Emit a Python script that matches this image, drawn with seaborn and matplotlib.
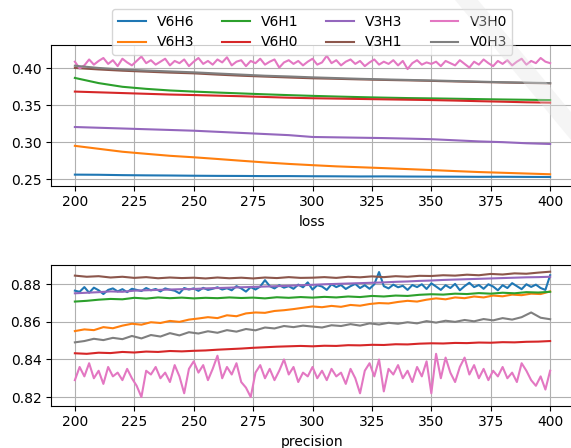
import numpy as np
import pandas as pd
import matplotlib
matplotlib.use("Agg")
import matplotlib.pyplot as plt
import seaborn as sns
from matplotlib.patches import Polygon

# %%
# model names in legend order, colors follow matplotlib's tab10 cycle
models = ['V6H6', 'V6H3', 'V6H1', 'V6H0', 'V3H3', 'V3H1', 'V3H0', 'V0H3']

epochs_10 = list(range(200, 401, 10))
epochs_5 = list(range(200, 401, 5))
epochs_4 = list(range(200, 401, 4))
epochs_2 = list(range(200, 401, 2))

# %%
# loss values
loss_v6h6 = [0.2560, 0.2558, 0.2553, 0.2550, 0.2548, 0.2545, 0.2543, 0.2542, 0.2540, 0.2540, 0.2538,
             0.2537, 0.2535, 0.2536, 0.2534, 0.2533, 0.2532, 0.2530, 0.2531, 0.2529, 0.2528]
loss_v6h3 = [0.2950, 0.2910, 0.2870, 0.2842, 0.2815, 0.2795, 0.2772, 0.2748, 0.2725, 0.2705, 0.2688,
             0.2672, 0.2660, 0.2648, 0.2635, 0.2622, 0.2608, 0.2595, 0.2585, 0.2575, 0.2565]
loss_v6h1 = [0.3870, 0.3800, 0.3750, 0.3722, 0.3700, 0.3685, 0.3672, 0.3660, 0.3648, 0.3637, 0.3627,
             0.3618, 0.3610, 0.3603, 0.3597, 0.3593, 0.3588, 0.3583, 0.3578, 0.3574, 0.3570]
loss_v6h0 = [0.3685, 0.3675, 0.3665, 0.3655, 0.3645, 0.3638, 0.3630, 0.3622, 0.3612, 0.3602, 0.3595,
             0.3590, 0.3585, 0.3580, 0.3575, 0.3570, 0.3563, 0.3555, 0.3548, 0.3540, 0.3535]
loss_v3h3 = [0.3205, 0.3195, 0.3185, 0.3175, 0.3165, 0.3155, 0.3140, 0.3125, 0.3110, 0.3095, 0.3070,
             0.3065, 0.3060, 0.3055, 0.3048, 0.3040, 0.3025, 0.3010, 0.3000, 0.2985, 0.2975]
loss_v3h1 = [0.4005, 0.3985, 0.3968, 0.3955, 0.3942, 0.3932, 0.3915, 0.3900, 0.3888, 0.3876, 0.3865,
             0.3858, 0.3850, 0.3843, 0.3837, 0.3830, 0.3822, 0.3815, 0.3808, 0.3802, 0.3797]
loss_v0h3 = [0.4035, 0.4005, 0.3985, 0.3970, 0.3958, 0.3946, 0.3930, 0.3915, 0.3900, 0.3890, 0.3878,
             0.3868, 0.3858, 0.3850, 0.3843, 0.3836, 0.3828, 0.3820, 0.3812, 0.3806, 0.3800]
loss_v3h0 = [0.409, 0.400, 0.404, 0.412, 0.405, 0.410, 0.414, 0.406, 0.411, 0.403,
             0.413, 0.408, 0.404, 0.410, 0.416, 0.407, 0.411, 0.405, 0.409, 0.413,
             0.404, 0.410, 0.407, 0.412, 0.403, 0.409, 0.414, 0.406, 0.410, 0.405,
             0.412, 0.408, 0.415, 0.404, 0.409, 0.411, 0.403, 0.410, 0.407, 0.413,
             0.405, 0.409, 0.412, 0.401, 0.408, 0.411, 0.406, 0.410, 0.404, 0.409,
             0.413, 0.405, 0.408, 0.417, 0.407, 0.411, 0.404, 0.409, 0.412, 0.406,
             0.410, 0.403, 0.408, 0.412, 0.405, 0.409, 0.406, 0.411, 0.404, 0.410,
             0.399, 0.407, 0.411, 0.405, 0.408, 0.406, 0.409, 0.403, 0.410, 0.407,
             0.404, 0.411, 0.406, 0.401, 0.409, 0.405, 0.412, 0.407, 0.403, 0.410,
             0.406, 0.411, 0.404, 0.409, 0.413, 0.405, 0.410, 0.407, 0.414, 0.409,
             0.407]

# %%
# precision values
prec_v6h6 = [0.8766, 0.8760, 0.8785, 0.8755, 0.8782, 0.8768, 0.8748, 0.8770, 0.8778, 0.8762,
             0.8774, 0.8758, 0.8776, 0.8770, 0.8764, 0.8780, 0.8768, 0.8775, 0.8762, 0.8778,
             0.8771, 0.8766, 0.8752, 0.8780, 0.8772, 0.8778, 0.8765, 0.8781, 0.8770, 0.8776,
             0.8784, 0.8772, 0.8779, 0.8768, 0.8790, 0.8778, 0.8761, 0.8785, 0.8772, 0.8788,
             0.8822, 0.8790, 0.8778, 0.8795, 0.8782, 0.8790, 0.8776, 0.8798, 0.8784, 0.8810,
             0.8772, 0.8795, 0.8788, 0.8770, 0.8800, 0.8785, 0.8796, 0.8775, 0.8790, 0.8802,
             0.8780, 0.8795, 0.8776, 0.8800, 0.8865, 0.8790, 0.8778, 0.8798, 0.8784, 0.8792,
             0.8770, 0.8796, 0.8785, 0.8800, 0.8775, 0.8805, 0.8788, 0.8770, 0.8795, 0.8780,
             0.8802, 0.8768, 0.8790, 0.8808, 0.8785, 0.8796, 0.8776, 0.8800, 0.8788, 0.8768,
             0.8795, 0.8780, 0.8806, 0.8790, 0.8774, 0.8800, 0.8786, 0.8798, 0.8780, 0.8770,
             0.8848]
prec_v3h0 = [0.829, 0.836, 0.831, 0.838, 0.830, 0.834, 0.827, 0.836, 0.831, 0.833,
             0.829, 0.835, 0.830, 0.826, 0.820, 0.834, 0.832, 0.836, 0.830, 0.833,
             0.828, 0.837, 0.831, 0.822, 0.835, 0.839, 0.833, 0.837, 0.829, 0.835,
             0.842, 0.830, 0.836, 0.832, 0.838, 0.828, 0.825, 0.820, 0.833, 0.837,
             0.830, 0.835, 0.829, 0.834, 0.840, 0.832, 0.836, 0.828, 0.833, 0.831,
             0.836, 0.830, 0.834, 0.829, 0.835, 0.831, 0.833, 0.827, 0.835, 0.830,
             0.822, 0.834, 0.838, 0.831, 0.840, 0.823, 0.835, 0.832, 0.837, 0.830,
             0.834, 0.828, 0.836, 0.831, 0.839, 0.822, 0.843, 0.830, 0.841, 0.833,
             0.828, 0.836, 0.841, 0.832, 0.837, 0.830, 0.835, 0.829, 0.834, 0.831,
             0.836, 0.830, 0.833, 0.828, 0.838, 0.834, 0.829, 0.826, 0.831, 0.824,
             0.834]
prec_v0h3 = [0.8491, 0.8498, 0.8510, 0.8503, 0.8515, 0.8508, 0.8525, 0.8512, 0.8530, 0.8522,
             0.8540, 0.8528, 0.8545, 0.8538, 0.8550, 0.8542, 0.8556, 0.8548, 0.8562, 0.8555,
             0.8570, 0.8565, 0.8578, 0.8572, 0.8580, 0.8575, 0.8570, 0.8582, 0.8578, 0.8588,
             0.8580, 0.8592, 0.8586, 0.8595, 0.8590, 0.8598, 0.8592, 0.8604, 0.8596, 0.8606,
             0.8600, 0.8610, 0.8603, 0.8615, 0.8608, 0.8620, 0.8612, 0.8625, 0.8650, 0.8622,
             0.8614]
prec_v6h3 = [0.8551, 0.8560, 0.8556, 0.8572, 0.8566, 0.8580, 0.8590, 0.8585, 0.8598, 0.8594,
             0.8605, 0.8600, 0.8612, 0.8618, 0.8625, 0.8620, 0.8635, 0.8630, 0.8645, 0.8650,
             0.8648, 0.8658, 0.8662, 0.8668, 0.8675, 0.8682, 0.8678, 0.8685, 0.8680, 0.8690,
             0.8686, 0.8695, 0.8700, 0.8698, 0.8706, 0.8712, 0.8708, 0.8718, 0.8725, 0.8720,
             0.8730, 0.8726, 0.8735, 0.8730, 0.8740, 0.8736, 0.8745, 0.8742, 0.8750, 0.8748,
             0.8762]
prec_v3h1 = [0.8846, 0.8840, 0.8843, 0.8836, 0.8840, 0.8834, 0.8838, 0.8832, 0.8836, 0.8833,
             0.8835, 0.8831, 0.8836, 0.8832, 0.8835, 0.8831, 0.8836, 0.8833, 0.8838, 0.8834,
             0.8835, 0.8838, 0.8834, 0.8840, 0.8837, 0.8842, 0.8838, 0.8843, 0.8840, 0.8845,
             0.8844, 0.8848, 0.8846, 0.8851, 0.8848, 0.8855, 0.8852, 0.8858, 0.8856, 0.8862,
             0.8867]
prec_v3h3 = [0.8752, 0.8755, 0.8758, 0.8762, 0.8760, 0.8766, 0.8768, 0.8770, 0.8772, 0.8774,
             0.8775, 0.8778, 0.8780, 0.8782, 0.8784, 0.8786, 0.8788, 0.8790, 0.8792, 0.8795,
             0.8797, 0.8800, 0.8802, 0.8804, 0.8806, 0.8808, 0.8810, 0.8813, 0.8815, 0.8818,
             0.8820, 0.8823, 0.8825, 0.8827, 0.8829, 0.8831, 0.8833, 0.8835, 0.8837, 0.8838,
             0.8840]
prec_v6h1 = [0.8708, 0.8712, 0.8718, 0.8722, 0.8720, 0.8728, 0.8724, 0.8730, 0.8726, 0.8729,
             0.8725, 0.8728, 0.8726, 0.8730, 0.8727, 0.8729, 0.8725, 0.8731, 0.8728, 0.8732,
             0.8729, 0.8733, 0.8730, 0.8735, 0.8732, 0.8738, 0.8735, 0.8740, 0.8738, 0.8744,
             0.8747, 0.8745, 0.8750, 0.8748, 0.8753, 0.8750, 0.8755, 0.8752, 0.8758, 0.8756,
             0.8760]
prec_v6h0 = [0.8433, 0.8430, 0.8436, 0.8434, 0.8440, 0.8437, 0.8442, 0.8440, 0.8445, 0.8443,
             0.8446, 0.8448, 0.8452, 0.8455, 0.8458, 0.8462, 0.8465, 0.8468, 0.8470, 0.8472,
             0.8470, 0.8473, 0.8472, 0.8476, 0.8475, 0.8478, 0.8477, 0.8481, 0.8480, 0.8484,
             0.8486, 0.8485, 0.8488, 0.8487, 0.8490, 0.8489, 0.8492, 0.8491, 0.8494, 0.8495,
             0.8498]

# %%
loss_series = {
    'V6H6': (epochs_10, loss_v6h6), 'V6H3': (epochs_10, loss_v6h3),
    'V6H1': (epochs_10, loss_v6h1), 'V6H0': (epochs_10, loss_v6h0),
    'V3H3': (epochs_10, loss_v3h3), 'V3H1': (epochs_10, loss_v3h1),
    'V3H0': (epochs_2, loss_v3h0), 'V0H3': (epochs_10, loss_v0h3),
}
prec_series = {
    'V6H6': (epochs_2, prec_v6h6), 'V6H3': (epochs_4, prec_v6h3),
    'V6H1': (epochs_5, prec_v6h1), 'V6H0': (epochs_5, prec_v6h0),
    'V3H3': (epochs_5, prec_v3h3), 'V3H1': (epochs_5, prec_v3h1),
    'V3H0': (epochs_2, prec_v3h0), 'V0H3': (epochs_4, prec_v0h3),
}

def to_long(series):
    frames = []
    for name, (x, y) in series.items():
        frames.append(pd.DataFrame({'epoch': x, 'value': y, 'model': name}))
    return pd.concat(frames, ignore_index=True)

loss_df = to_long(loss_series)
prec_df = to_long(prec_series)

palette = dict(zip(models, sns.color_palette('tab10', 8)))

# %%
fig = plt.figure(figsize=(5.71, 4.48), dpi=100)
ax1 = fig.add_axes([0.0895, 0.5855, 0.9156, 0.3147])
ax2 = fig.add_axes([0.0895, 0.0944, 0.9156, 0.3147])

sns.lineplot(data=loss_df, x='epoch', y='value', hue='model', hue_order=models,
             palette=palette, estimator=None, sort=False, linewidth=1.5, ax=ax1)
sns.lineplot(data=prec_df, x='epoch', y='value', hue='model', hue_order=models,
             palette=palette, estimator=None, sort=False, linewidth=1.5, ax=ax2, legend=False)

handles, labels = ax1.get_legend_handles_labels()
ax1.get_legend().remove()

for ax, lab in [(ax1, 'loss'), (ax2, 'precision')]:
    ax.set_xlim(190, 410)
    ax.set_xticks(range(200, 401, 25))
    ax.grid(True, color='#b0b0b0', linewidth=0.8)
    ax.set_xlabel(lab, fontsize=10)
    ax.set_ylabel('')
    ax.tick_params(labelsize=10)

ax1.set_ylim(0.241, 0.432)
ax1.set_yticks([0.25, 0.30, 0.35, 0.40])
ax2.set_ylim(0.8154, 0.8904)
ax2.set_yticks([0.82, 0.84, 0.86, 0.88])

fig.legend(handles, labels, loc='upper center', bbox_to_anchor=(0.547, 0.98),
           ncol=4, fontsize=10, borderaxespad=0, framealpha=0.8)

# faint watermark in the upper right corner
wm = Polygon([[455 / 571, 1.0], [478 / 571, 1.0], [571 / 571, 1 - 112 / 448],
              [571 / 571, 1 - 140 / 448]], closed=True, transform=fig.transFigure,
             facecolor='#e4e4e4', edgecolor='none', alpha=0.35, zorder=10)
fig.patches.append(wm)

fig.savefig('out.png', dpi=100)
